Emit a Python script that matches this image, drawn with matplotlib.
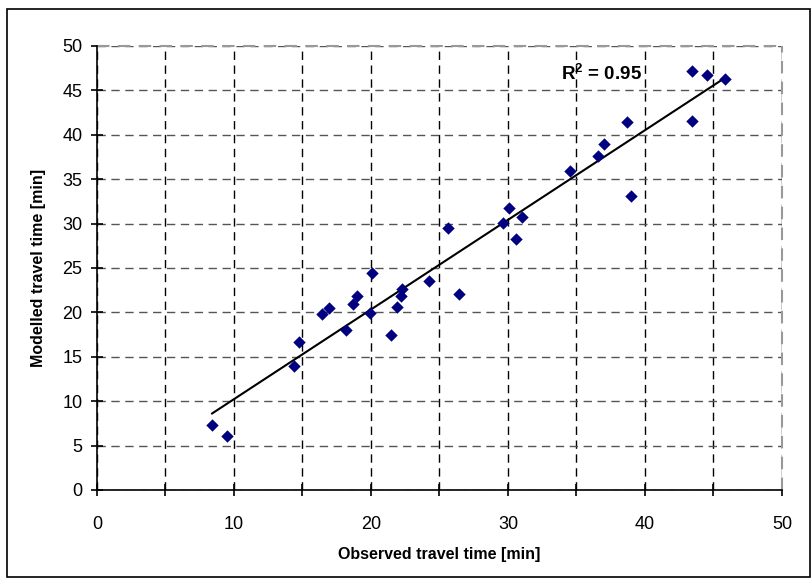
import numpy as np
import matplotlib
matplotlib.use("Agg")
import matplotlib.pyplot as plt
from matplotlib.patches import Rectangle
from matplotlib.ticker import MultipleLocator

plt.rcParams['font.family'] = ['Liberation Sans', 'DejaVu Sans']
plt.rcParams['mathtext.fontset'] = 'custom'
plt.rcParams['mathtext.rm'] = 'Liberation Sans'
plt.rcParams['mathtext.bf'] = 'Liberation Sans:bold'

# observed vs modelled travel time [min]
observed = [8.4, 9.5, 14.4, 14.75, 16.45, 16.95, 18.15, 18.7, 18.95, 19.95,
            20.1, 21.45, 21.9, 22.2, 22.25, 24.25, 25.6, 26.4, 29.65, 30.1,
            30.55, 31.05, 34.5, 36.55, 37.0, 38.65, 39.0, 43.45, 43.45, 44.5,
            45.85]
modelled = [7.3, 6.05, 14.0, 16.7, 19.8, 20.55, 18.0, 20.9, 21.8, 19.9,
            24.45, 17.5, 20.6, 21.8, 22.6, 23.5, 29.5, 22.05, 30.1, 31.8,
            28.3, 30.7, 35.9, 37.6, 39.0, 41.45, 33.1, 47.2, 41.6, 46.75,
            46.3]
r2_label = 'R$^\\mathbf{2}$ = 0.95'

x = np.array(observed)
y = np.array(modelled)

fig = plt.figure(figsize=(8.12, 5.8), dpi=100)
ax = fig.add_axes([97/812, 1-490/580, 685/812, 444/580])

# linear trend line
k, b = np.polyfit(x, y, 1)
xl = np.array([x.min(), x.max()])
ax.plot(xl, k*xl + b, color='black', lw=1.5, zorder=3)

ax.scatter(x, y, marker='D', s=40, color='#000080', zorder=4, linewidths=0)

ax.set_xlim(0, 50)
ax.set_ylim(0, 50)
ax.xaxis.set_major_locator(MultipleLocator(10))
ax.xaxis.set_minor_locator(MultipleLocator(5))
ax.yaxis.set_major_locator(MultipleLocator(5))

ax.grid(True, axis='x', which='both', color='black', ls=(0, (6, 4)), lw=1)
ax.grid(True, axis='y', which='major', color='#555555', ls=(0, (6, 4)), lw=1)
# plot area edge on top/right is a lighter dashed line
ax.axhline(50, color='#999999', ls=(0, (6, 4)), lw=1.5, clip_on=False)
ax.axvline(50, color='#999999', ls=(0, (6, 4)), lw=1.5, clip_on=False)
ax.set_axisbelow(True)

for s in ['top', 'right']:
    ax.spines[s].set_visible(False)
for s in ['left', 'bottom']:
    ax.spines[s].set_linewidth(1.2)

ax.tick_params(axis='both', which='both', direction='inout', length=9, width=1.2, labelsize=13)
ax.tick_params(axis='x', which='both', pad=14)
ax.tick_params(axis='y', pad=6)

ax.set_xlabel('Observed travel time [min]', fontsize=11.5, fontweight='bold', labelpad=10)
ax.set_ylabel('Modelled travel time [min]', fontsize=11.5, fontweight='bold', labelpad=12)

ax.text(36.8, 46.9, r2_label, fontsize=13.5, fontweight='bold', ha='center', va='center')

# chart border
fig.patches.append(Rectangle((7/812, 1-577/580), 803/812, 568/580, transform=fig.transFigure,
                             fill=False, edgecolor='black', lw=1.2))

fig.savefig('out.png', dpi=100)
